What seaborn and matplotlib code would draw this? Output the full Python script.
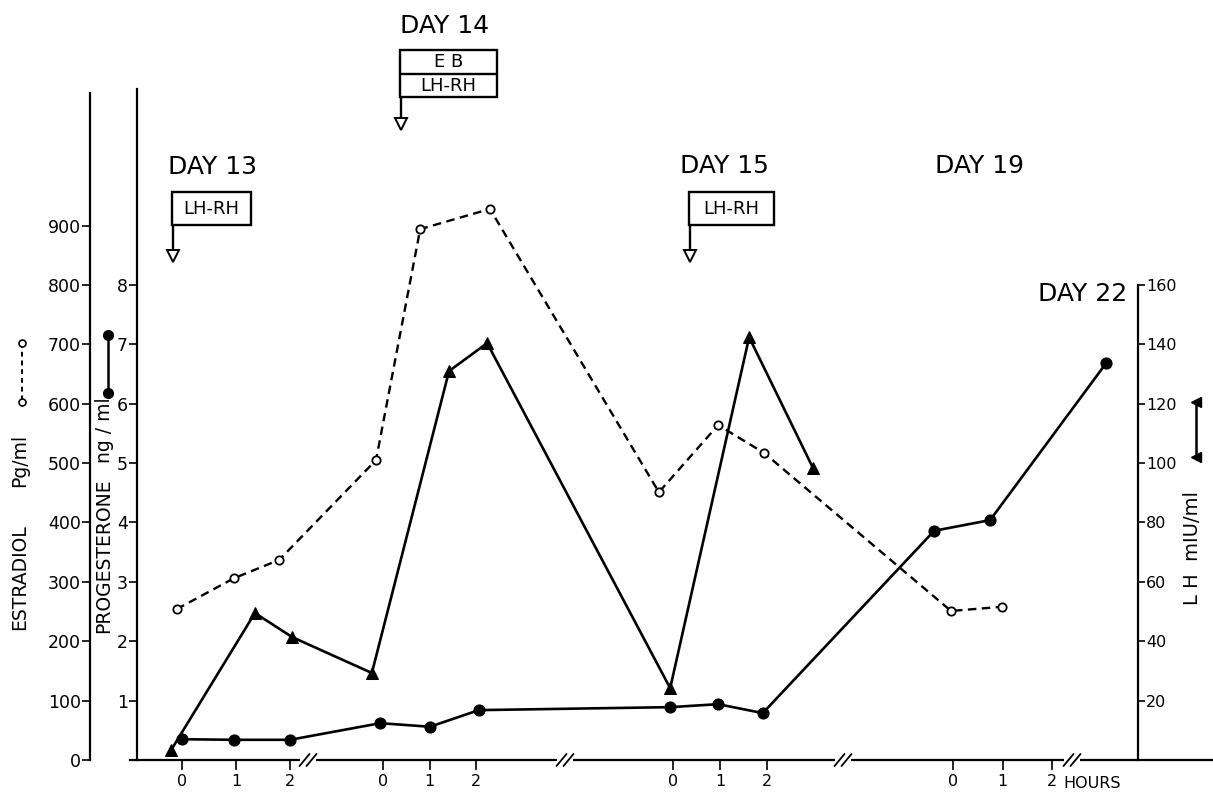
import numpy as np
import pandas as pd
import seaborn as sns
import matplotlib.pyplot as plt
from matplotlib.patches import Rectangle

# values: day of cycle, hours after injection, level
estradiol_day = [13, 13, 13, 14, 14, 14, 15, 15, 15, 19, 19]
estradiol_hour = [-0.1, 0.96, 1.8, -0.15, 0.8, 2.3, -0.3, 0.96, 1.94, -0.04, 0.99]
estradiol_pg = [254, 306, 337, 505, 894, 928, 451, 564, 517, 251, 258]

progesterone_day = [13, 13, 13, 14, 14, 14, 15, 15, 15, 19, 19, 22]
progesterone_hour = [0.0, 0.96, 2.0, -0.06, 1.01, 2.06, -0.06, 0.96, 1.91, -0.38, 0.75, 0.0]
progesterone_ng = [0.35, 0.34, 0.34, 0.62, 0.56, 0.84, 0.89, 0.94, 0.79, 3.86, 4.04, 6.68]

lh_day = [13, 13, 13, 14, 14, 14, 15, 15, 15]
lh_hour = [-0.2, 1.35, 2.04, -0.24, 1.42, 2.24, -0.06, 1.62, 2.98]
lh_miu = [3.4, 49.5, 41.4, 29.3, 131, 140.4, 24.2, 142.4, 98.3]

tick_days = [13, 14, 15, 19]
tick_hours = [0, 1, 2]
estradiol_ticks = list(range(0, 1000, 100))
progesterone_ticks = list(range(1, 9))
lh_ticks = list(range(20, 180, 20))

# broken time axis: where each day starts and how wide an hour is
SEG_ORIGIN = {13: 182, 14: 383, 15: 673, 19: 953, 22: 1106}
SEG_WIDTH = {13: 54, 14: 46.5, 15: 47, 19: 49.5, 22: 50}


def timeline(days, hours):
    return [SEG_ORIGIN[d] + h * SEG_WIDTH[d] for d, h in zip(days, hours)]


est = pd.DataFrame({'t': timeline(estradiol_day, estradiol_hour), 'v': estradiol_pg})
prog = pd.DataFrame({'t': timeline(progesterone_day, progesterone_hour), 'v': progesterone_ng})
lh = pd.DataFrame({'t': timeline(lh_day, lh_hour), 'v': lh_miu})

sns.set_style('ticks')
plt.rcParams['font.family'] = ['DejaVu Sans']
plt.rcParams['text.color'] = 'black'
plt.rcParams['xtick.color'] = 'black'
plt.rcParams['ytick.color'] = 'black'

W, H = 1213, 793
fig = plt.figure(figsize=(W / 100, H / 100), dpi=100)
ax = fig.add_axes([130 / W, 33 / H, 1083 / W, 671 / H])
ax.set_xlim(130, 1213)
ax.set_ylim(0, 1130)

ax_p = ax.twinx()
ax_p.set_ylim(0, 11.3)
ax_l = ax.twinx()
ax_l.set_ylim(0, 226)

sns.lineplot(data=est, x='t', y='v', ax=ax, color='black', lw=1.7,
             linestyle=(0, (3.6, 2.3)), marker='o', markersize=6,
             markerfacecolor='white', markeredgecolor='black',
             markeredgewidth=1.3, estimator=None, sort=False)
sns.lineplot(data=prog, x='t', y='v', ax=ax_p, color='black', lw=1.9,
             marker='o', markersize=8, markerfacecolor='black',
             markeredgecolor='black', estimator=None, sort=False)
sns.lineplot(data=lh, x='t', y='v', ax=ax_l, color='black', lw=1.9,
             marker='^', markersize=9, markerfacecolor='black',
             markeredgecolor='black', estimator=None, sort=False)

for a in (ax, ax_p, ax_l):
    a.set_xlabel('')
    a.set_ylabel('')
    for s in a.spines.values():
        s.set_visible(False)
        s.set_linewidth(1.6)
        s.set_color('black')

# estradiol axis (far left)
ax.spines['left'].set_visible(True)
ax.spines['left'].set_position(('axes', -40 / 1083))
ax.spines['left'].set_bounds(0, 1124)
ax.set_yticks(estradiol_ticks)
ax.tick_params(axis='y', direction='out', length=5.5, width=1.2, labelsize=12.5, pad=1)

# time axis
ax.spines['bottom'].set_visible(True)
xt, xl = [], []
for d in tick_days:
    for h in tick_hours:
        xt.append(SEG_ORIGIN[d] + h * SEG_WIDTH[d])
        xl.append(str(h))
ax.set_xticks(xt)
ax.set_xticklabels(xl)
ax.tick_params(axis='x', direction='out', length=7, width=1.2, labelsize=11.5, pad=3)

# progesterone axis
ax_p.spines['left'].set_visible(True)
ax_p.spines['left'].set_position(('axes', 7 / 1083))
ax_p.yaxis.tick_left()
ax_p.set_yticks(progesterone_ticks)
ax_p.tick_params(axis='y', direction='out', length=5.5, width=1.2, labelsize=12.5, pad=1)

# LH axis (right)
ax_l.spines['right'].set_visible(True)
ax_l.spines['right'].set_position(('axes', 1008 / 1083))
ax_l.spines['right'].set_bounds(0, 160)
ax_l.set_yticks(lh_ticks)
ax_l.tick_params(axis='y', direction='out', length=5, width=1.2, labelsize=11.5, pad=1)

# overlay in pixel coordinates for the lettering and flags
ov = fig.add_axes([0, 0, 1, 1], zorder=10)
ov.set_xlim(0, W)
ov.set_ylim(H, 0)
ov.axis('off')
ov.patch.set_alpha(0)

ov.text(1063, 783, 'HOURS', fontsize=11.5, ha='left', va='center')

for bx in (308, 565, 843, 1072):
    ov.plot([bx - 8, bx + 8], [760, 760], color='white', lw=4, solid_capstyle='butt')
    for dx in (-3.5, 3.5):
        ov.plot([bx + dx - 5, bx + dx + 5], [766, 754], color='black', lw=1.3)

day_labels = [('DAY 14', 400, 33), ('DAY 13', 168, 174), ('DAY 15', 680, 173),
              ('DAY 19', 935, 173), ('DAY 22', 1038, 301)]
for txt, x, y in day_labels:
    ov.text(x, y, txt, fontsize=18, ha='left', va='baseline')


def flag(x0, y0, x1, y1, tip):
    ov.add_patch(Rectangle((x0, y0), x1 - x0, y1 - y0, fill=False, lw=1.7, ec='black'))
    ov.plot([x0 + 1, x0 + 1], [y1, tip - 12], color='black', lw=1.7)
    ov.plot([x0 + 1], [tip - 6.5], marker='v', markersize=9, mfc='white', mec='black', mew=1.4)


flag(400, 50, 497, 97, 130)
ov.plot([400, 497], [74, 74], color='black', lw=1.7)
ov.text(448.5, 62, 'E B', fontsize=13, ha='center', va='center')
ov.text(448.5, 86, 'LH-RH', fontsize=13, ha='center', va='center')

flag(172, 192, 251, 225, 262)
ov.text(211.5, 209, 'LH-RH', fontsize=13, ha='center', va='center')
flag(689, 192, 774, 225, 262)
ov.text(731.5, 209, 'LH-RH', fontsize=13, ha='center', va='center')

# axis titles and their key symbols
ov.text(20, 577, 'ESTRADIOL', fontsize=13.5, rotation=90, ha='center', va='center')
ov.text(20, 460, 'Pg/ml', fontsize=13.5, rotation=90, ha='center', va='center')
ov.plot([22, 22], [343, 402], color='black', lw=1.4, linestyle=(0, (2.5, 2)),
        marker='o', markersize=5, mfc='white', mec='black', mew=1.2)

ov.text(104, 556, 'PROGESTERONE', fontsize=13.5, rotation=90, ha='center', va='center')
ov.text(104, 430, 'ng / ml', fontsize=13.5, rotation=90, ha='center', va='center')
ov.plot([108, 108], [335, 393], color='black', lw=1.8, marker='o', markersize=7, mfc='black', mec='black')

ov.text(1193, 548, 'L H  mIU/ml', fontsize=14, rotation=90, ha='center', va='center')
ov.plot([1196, 1196], [402, 457], color='black', lw=1.8, marker='<', markersize=7, mfc='black', mec='black')

fig.savefig('out.png', dpi=100)
